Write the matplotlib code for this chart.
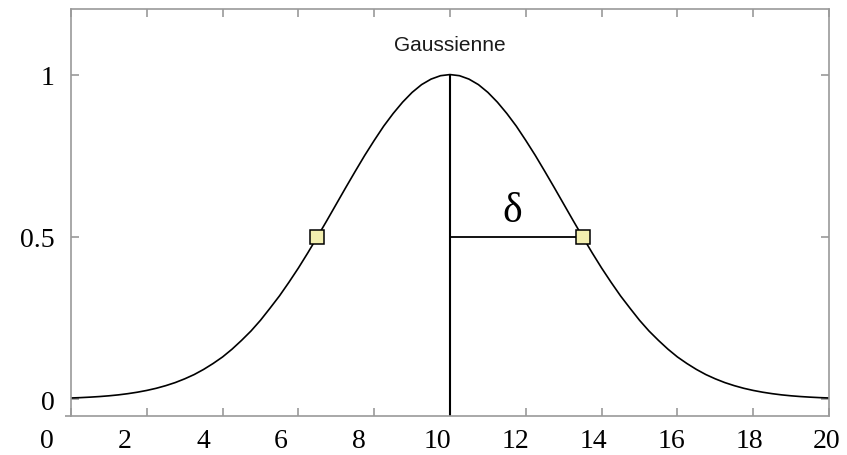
import matplotlib
matplotlib.use("Agg")
import matplotlib.pyplot as plt

# Gaussian profile sampled every 0.25 along x (left half; right half mirrors it)
x_left = [0.0, 0.25, 0.5, 0.75, 1.0, 1.25, 1.5, 1.75, 2.0, 2.25, 2.5, 2.75,
          3.0, 3.25, 3.5, 3.75, 4.0, 4.25, 4.5, 4.75, 5.0, 5.25, 5.5, 5.75,
          6.0, 6.25, 6.5, 6.75, 7.0, 7.25, 7.5, 7.75, 8.0, 8.25, 8.5, 8.75,
          9.0, 9.25, 9.5, 9.75, 10.0]
y_left = [0.0035, 0.0046, 0.0061, 0.0079, 0.0102, 0.0131, 0.0168, 0.0213,
          0.0268, 0.0334, 0.0415, 0.0510, 0.0625, 0.0757, 0.0916, 0.1098,
          0.130, 0.154, 0.181, 0.210, 0.243, 0.280, 0.318, 0.360, 0.404,
          0.451, 0.500, 0.550, 0.601, 0.652, 0.702, 0.751, 0.797, 0.841,
          0.880, 0.915, 0.945, 0.969, 0.986, 0.9965, 1.000]
x_right = [20.0 - v for v in reversed(x_left[:-1])]
y_right = list(reversed(y_left[:-1]))
x_vals = x_left + x_right
y_vals = y_left + y_right

center = 10.0
half_max = 0.5
half_points_x = [6.5, 13.5]
delta_end = 13.5

x_ticks = [0, 2, 4, 6, 8, 10, 12, 14, 16, 18, 20]
y_ticks = [0, 0.5, 1]
y_tick_labels = ["0", "0.5", "1"]
title_text = "Gaussienne"
delta_text = "δ"

W, H = 847, 456
fig = plt.figure(figsize=(W / 100, H / 100), dpi=100)
fig.patch.set_facecolor("white")

left, right, top, bottom = 71, 829, 10, 417
ax = fig.add_axes([left / W, 1 - bottom / H, (right - left) / W, (bottom - top) / H])
ax.set_xlim(0, 20)
ax.set_ylim(-0.052, 1.202)

frame_col = "#9a9a9a"
for s in ax.spines.values():
    s.set_color(frame_col)
    s.set_linewidth(1.2)
# small overhang of the bottom axis line to the left
ax.plot([-0.008, 0], [0, 0], transform=ax.transAxes, color=frame_col,
        lw=1.2, clip_on=False, solid_capstyle="butt")

ax.set_xticks(x_ticks)
ax.set_yticks(y_ticks)
ax.set_yticklabels(y_tick_labels)
ax.tick_params(axis="both", direction="in", length=6, width=1.2, color=frame_col,
               top=True, right=True)
ax.tick_params(axis="x", labelbottom=False)
ax.tick_params(axis="y", pad=12, labelsize=20)
for lab in ax.get_yticklabels():
    lab.set_fontfamily("Liberation Serif")

# curve
ax.plot(x_vals, y_vals, color="black", lw=1.2)
# centre line and half-width segment
ax.plot([center, center], [-0.052, 1.0], color="black", lw=1.5, solid_capstyle="butt")
ax.plot([center, delta_end], [half_max, half_max], color="black", lw=1.3)
# half-maximum markers
ax.plot(half_points_x, [half_max, half_max], linestyle="none", marker="s",
        markersize=9.5, markerfacecolor="#f3efb0", markeredgecolor="black",
        markeredgewidth=1.1)

ax.text(center, 1.094, title_text, ha="center", va="center", fontsize=15,
        family="Liberation Sans", color="#1a1a1a")
ax.text(11.65, 0.58, delta_text, ha="center", va="center", fontsize=30,
        family="Liberation Serif", color="black")

# x tick labels on their own slightly wider scale
lab_left, lab_right = 47, 827
axl = fig.add_axes([lab_left / W, 1 - bottom / H, (lab_right - lab_left) / W, 0.001])
axl.set_xlim(0, 20)
axl.set_xticks(x_ticks)
axl.set_xticklabels([str(v) for v in x_ticks], family="Liberation Serif", fontsize=20)
axl.tick_params(axis="x", length=0, pad=9)
axl.set_yticks([])
for s in axl.spines.values():
    s.set_visible(False)
axl.patch.set_alpha(0)

fig.savefig("out.png", dpi=100, facecolor="white")
